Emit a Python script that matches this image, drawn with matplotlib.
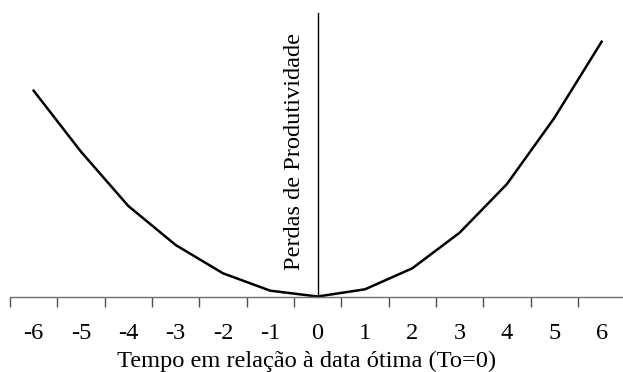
import matplotlib
matplotlib.use("Agg")
import matplotlib.pyplot as plt
from matplotlib.ticker import FixedLocator, NullFormatter

categories = [-6, -5, -4, -3, -2, -1, 0, 1, 2, 3, 4, 5, 6]
losses = [205.8, 144.8, 90.5, 51.5, 23.2, 5.8, 0.0, 7.2, 28.2, 63.8, 112.5, 178.5, 254.8]
tick_labels = [str(c) for c in categories]
xlabel = "Tempo em relação à data ótima (To=0)"
ylabel = "Perdas de Produtividade"

plt.rcParams['font.family'] = ['Liberation Serif', 'DejaVu Serif']

fig = plt.figure(figsize=(6.23, 3.72), dpi=100)
ax = fig.add_axes([10/623, 75.5/372, 1 - 10/623, (296.5 - 13)/372])

ax.plot(categories, losses, color='black', lw=1.8, solid_joinstyle='miter')

ax.set_xlim(-6.5, -6.5 + 613/47.33)
ax.set_ylim(0, 283.5)

for s in ['top', 'right']:
    ax.spines[s].set_visible(False)
ax.spines['left'].set_position(('data', 0))
ax.spines['left'].set_color('black')
ax.spines['left'].set_linewidth(1.0)
ax.spines['bottom'].set_color('#707070')
ax.spines['bottom'].set_linewidth(1.0)
ax.set_yticks([])

bounds = [c - 0.5 for c in categories]
ax.xaxis.set_major_locator(FixedLocator(bounds))
ax.xaxis.set_major_formatter(NullFormatter())
ax.xaxis.set_minor_locator(FixedLocator(categories))
ax.set_xticklabels(tick_labels, minor=True)
ax.tick_params(axis='x', which='major', direction='out', length=7, width=1.0, color='#505050')
ax.tick_params(axis='x', which='minor', length=0, pad=19, labelsize=17.6)

ax.set_xlabel(xlabel, fontsize=17.6, labelpad=5)
ax.xaxis.label.set_x((307 - 10) / 613)

ax.text(-0.48, 145.5, ylabel, rotation=90, ha='center', va='center', fontsize=17.6)

fig.savefig("out.png", dpi=100)
